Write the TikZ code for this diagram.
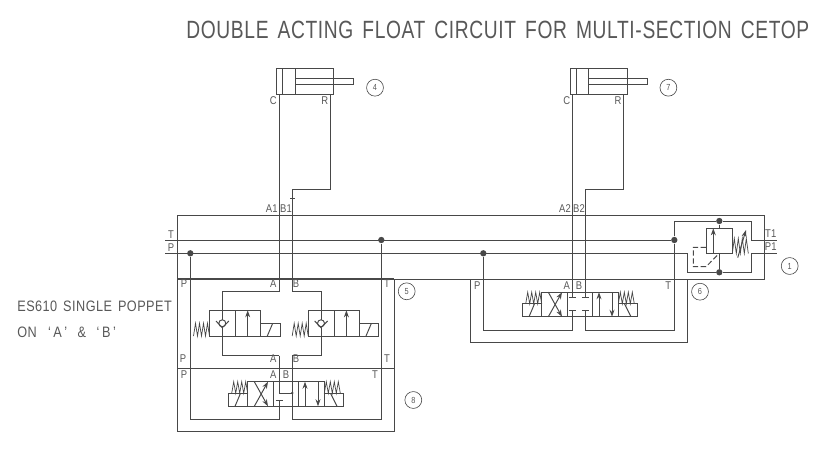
\documentclass[tikz,border=0pt]{standalone}
\usepackage{fontspec}
\usetikzlibrary{arrows.meta}
\newfontfamily\cadfont[FakeStretch=0.84,LetterSpace=3,WordSpace=1.5]{Liberation Sans}
\newfontfamily\titlefont[FakeStretch=0.77,LetterSpace=2.6,WordSpace=1.5]{Liberation Sans}
\definecolor{pipe}{HTML}{484848}
\definecolor{lettering}{HTML}{585858}
\newcommand{\coil}[4]{\draw[pipeline, line width=0.4pt] (#1,#2) -- ++(#3,-#4) -- ++(#3,#4) -- ++(#3,-#4) -- ++(#3,#4) -- ++(#3,-#4) -- ++(#3,#4) -- ++(#3,-#4) -- ++(#3,#4);}
\tikzset{
	pipeline/.style={draw=pipe, line width=0.55pt},
	flow/.style={pipeline, -{Stealth[length=4pt, width=2.8pt]}},
	dot/.style={circle, fill=pipe, inner sep=0pt, minimum size=3.6pt},
	port/.style={text=lettering, inner sep=0pt, font=\cadfont\fontsize{6.4}{7}\selectfont},
	tag/.style={circle, draw=pipe, line width=0.35pt, text=lettering, inner sep=0pt, minimum size=9.6pt, font=\cadfont\fontsize{5}{6}\selectfont},
	note/.style={text=lettering, inner sep=0pt, anchor=west, font=\cadfont\fontsize{8.6}{10}\selectfont}
}
\begin{document}
\begin{tikzpicture}[x=0.02cm, y=-0.02cm]
	\useasboundingbox (0,0) rectangle (834,449);

	\node (title) [note, font=\titlefont\fontsize{14.2}{16}\selectfont] at (186,30){DOUBLE ACTING FLOAT CIRCUIT FOR MULTI-SECTION CETOP};
	\node (noteA) [note] at (17,306){ES610 SINGLE POPPET};
	\node (noteB) [note] at (17,332){ON\hspace{0.35em} ‘\,A\,’\hspace{0.3em} \&\hspace{0.3em} ‘\,B\,’};

	% cylinders
	\foreach \sx in {0,293.4}{
		\begin{scope}[shift={(\sx,0)}]
			\draw[pipeline] (276.7,68.3) rectangle (333.7,94.3);
			\draw[pipeline] (282.7,68.3) -- (282.7,94.3);
			\draw[pipeline] (295.3,68.3) -- (295.3,94.3);
			\draw[pipeline] (295.3,78.3) rectangle (353.7,84.3);
		\end{scope}
	}

	% manifold and sub-plates
	\draw[pipeline] (177,215) rectangle (764,279);
	\draw[pipeline] (177,279) rectangle (394.3,431.7);
	\draw[pipeline] (177,368.3) -- (394.3,368.3);
	\draw[pipeline, line width=0.9pt] (177,279) -- (394.3,279);
	\draw[pipeline] (470.7,279) rectangle (687.3,342);

	% junctions
	\node (dotP1) [dot] at (190.3,253.3){};
	\node (dotT1) [dot] at (381.3,240){};
	\node (dotP2) [dot] at (483.3,253.3){};
	\node (dotT2) [dot] at (674.3,240){};
	\node (dotR1) [dot] at (719.3,221){};
	\node (dotR2) [dot] at (719.3,272.3){};

	% free ends
	\coordinate (busT) at (165,240);
	\coordinate (busP) at (165,253.3);
	\coordinate (outT) at (777,240);
	\coordinate (outP) at (777,253.3);
	\coordinate (C1) at (279.3,94.3);
	\coordinate (R1) at (330.5,94.3);
	\coordinate (C2) at (572.7,94.3);
	\coordinate (R2) at (623.9,94.3);
	\coordinate (B1) at (292.3,189.3);
	\coordinate (B2) at (585.3,189.3);
	\coordinate (A1top) at (279.3,291.7);
	\coordinate (B1top) at (292.3,291.7);
	\coordinate (A1low) at (279.3,355.7);
	\coordinate (B1low) at (292.3,355.7);
	\coordinate (chkAtop) at (222.3,310.3);
	\coordinate (chkAlow) at (222.3,336);
	\coordinate (chkBtop) at (321,310.3);
	\coordinate (chkBlow) at (321,336);
	\coordinate (P8) at (279.3,419.3);
	\coordinate (T8) at (292.3,419.3);
	\coordinate (P6) at (572.7,330.3);
	\coordinate (T6) at (585.3,330.3);
	\coordinate (A6) at (572.7,297.7);
	\coordinate (B6) at (585.3,297.7);

	% buses
	\draw[pipeline] (busT) -- (dotT2);
	\draw[pipeline] (busP) -- (687.3,253.3) |- (dotR2) -| (751.7,253.3) -- (outP);
	\draw[pipeline] (dotT2) |- (dotR1) -| (751.7,240) -- (outT);
	\draw[pipeline] (dotT2) -- (674.3,279);

	% lines to cylinders
	\draw[pipeline] (C1) -- (A1top) -| (chkAtop);
	\draw[pipeline] (R1) |- (B1) -- (B1top) -| (chkBtop);
	\draw[pipeline] (C2) -- (A6);
	\draw[pipeline] (R2) |- (B2) -- (B6);
	\draw[pipeline] (290,198.3) -- (295,198.3);

	% plate 5 and 8 lines
	\draw[pipeline] (chkAlow) |- (A1low);
	\draw[pipeline] (chkBlow) |- (B1low);
	\draw[pipeline] (A1low) -- (279.3,393) -- (292.3,393);
	\draw[pipeline] (B1low) -- (T8);
	\draw[pipeline] (dotP1) |- (P8) -- (279.3,400);
	\draw[pipeline] (dotT1) |- (T8);
	\draw[pipeline] (275.7,400) -- (283.3,400);
	\node (dot8) [dot, minimum size=1.6pt] at (292.3,393){};

	% plate 6 lines
	\draw[pipeline] (dotP2) |- (P6) -- (572.7,310.7);
	\draw[pipeline] (dotT2) |- (T6) -- (585.3,310.7);
	\foreach \bx in {572.7,585.3}{
		\draw[pipeline] (\bx-3.4,297.7) -- (\bx+3.4,297.7);
		\draw[pipeline] (\bx-3.4,310.7) -- (\bx+3.4,310.7);
	}

	% directional valves
	\foreach \sx/\sy in {0/0,294/-89.5}{
		\begin{scope}[shift={(\sx,\sy)}]
			\draw[pipeline] (247.7,381.7) rectangle (324.3,406.3);
			\draw[pipeline] (273.3,381.7) -- (273.3,406.3);
			\draw[pipeline] (298.3,381.7) -- (298.3,406.3);
			\draw[pipeline] (228.3,393.3) rectangle (247.7,406.3);
			\draw[pipeline] (324.3,393.3) rectangle (343.3,406.3);
			\draw[pipeline] (235,406.3) -- (240.5,393.3);
			\draw[pipeline] (330.5,393.3) -- (337,406.3);
			\coil{231.7}{393.3}{2}{11.6}
			\coil{324.3}{393.3}{2}{11.6}
			\draw[flow] (254.3,406.3) -- (268,381.7);
			\draw[flow] (254.3,381.7) -- (268,406.3);
			\draw[flow] (305,406.3) -- (305,381.7);
			\draw[flow] (318,381.7) -- (318,406.3);
		\end{scope}
	}

	% poppet valves
	\foreach \sx in {0,98.7}{
		\begin{scope}[shift={(\sx,0)}]
			\draw[pipeline] (209.3,310.3) rectangle (260.7,336);
			\draw[pipeline] (235.3,310.3) -- (235.3,336);
			\draw[pipeline] (260.7,323.3) rectangle (280.2,336);
			\draw[pipeline] (267.3,336) -- (272.7,323.3);
			\coil{193.5}{336}{2}{12.7}
			\draw[flow] (247.7,336) -- (247.7,310.3);
			\draw[pipeline] (222.3,310.3) -- (222.3,319.8);
			\draw[pipeline] (222.3,323.3) circle [radius=3.5];
			\draw[pipeline] (216,321) -- (222.3,327.7) -- (228.9,321);
			\draw[pipeline] (222.3,327.7) -- (222.3,336);
		\end{scope}
	}

	% relief valve
	\draw[pipeline] (706,228.3) rectangle (732.3,253.3);
	\draw[pipeline] (dotR1) -- (719.3,228.3);
	\draw[pipeline] (dotR2) -- (719.3,253.3);
	\draw[flow] (713.3,253.3) -- (713.3,228.3);
	\draw[pipeline, dash pattern=on 3pt off 1.5pt] (706,247.3) -- (693.3,247.3) -- (693.3,266.7) -- (706,266.7) -- (719.3,253.3);
	\coil{732.3}{253.5}{2}{15}
	\draw[flow] (737.7,257.7) -- (746,230);

	% ports
	\foreach \n/\t/\x/\y in {
		pC1/C/273.3/101, pR1/R/324.7/101, pC2/C/566.7/101, pR2/R/618.1/101,
		pA1/A1/271.7/209, pB1/B1/286/209, pA2/A2/565/209, pB2/B2/579/209,
		pT/T/171/235, pP/P/171/247.5, pT1/T1/770.7/234, pP1/P1/770.7/246.7,
		p5a/P/184/284, a5a/A/273.3/284, b5a/B/296/284, t5a/T/387/284,
		p5b/P/183/359, a5b/A/273.3/359, b5b/B/296/359, t5b/T/387/359,
		p8/P/184/375, a8/A/273.3/375, b8/B/286/375, t8/T/375/375,
		p6/P/477.3/285.7, a6/A/566.7/285.7, b6/B/579/285.7, t6/T/668.3/285.7}{
		\node (\n) [port] at (\x,\y){\t};
	}

	% item numbers
	\node (tag4) [tag] at (375,87.7){4};
	\node (tag7) [tag] at (668.4,87.7){7};
	\node (tag1) [tag] at (789.7,266){1};
	\node (tag5) [tag] at (406.7,291.3){5};
	\node (tag6) [tag] at (700,291.7){6};
	\node (tag8) [tag] at (413.3,400){8};
\end{tikzpicture}
\end{document}
